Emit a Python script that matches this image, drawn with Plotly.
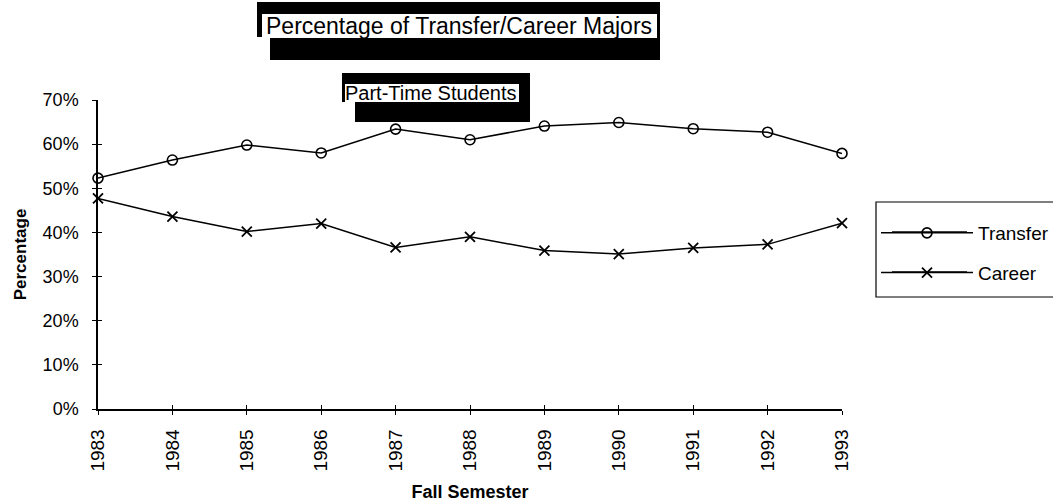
import plotly.graph_objects as go

years = [1983, 1984, 1985, 1986, 1987, 1988, 1989, 1990, 1991, 1992, 1993]
transfer = [0.523, 0.564, 0.598, 0.580, 0.634, 0.610, 0.641, 0.649, 0.635, 0.627, 0.579]
career = [0.477, 0.436, 0.402, 0.420, 0.366, 0.390, 0.359, 0.351, 0.365, 0.373, 0.421]
y_ticks = [0, 0.1, 0.2, 0.3, 0.4, 0.5, 0.6, 0.7]
title_text = "Percentage of Transfer/Career Majors"
subtitle_text = "Part-Time Students"

W, H = 1053, 504
L, R, T, B = 98, 842, 100, 409
FONT = "Liberation Sans, Arial, sans-serif"


def px(x):
    return (x - L) / (R - L)


def py(y):
    return (B - y) / (B - T)


fig = go.Figure()
fig.add_trace(go.Scatter(
    x=years, y=transfer, name="Transfer", mode="lines+markers",
    line=dict(color="black", width=1.5),
    marker=dict(symbol="circle-open", size=10, color="black", line=dict(width=1.6)),
    cliponaxis=False, legendgroup="a"))
fig.add_trace(go.Scatter(
    x=years, y=career, name="Career", mode="lines+markers",
    line=dict(color="black", width=1.5),
    marker=dict(symbol="x-thin-open", size=10, color="black", line=dict(width=1.8, color="black")),
    cliponaxis=False, legendgroup="b"))

shapes = []


def rect(x0, y0, x1, y1, color):
    shapes.append(dict(type="rect", xref="paper", yref="paper",
                       x0=px(x0), x1=px(x1), y0=py(y1), y1=py(y0),
                       fillcolor=color, line=dict(width=0), layer="below"))


# title label with shadow
rect(257, 2, 660, 37, "black")
rect(270, 37, 660, 60, "black")
rect(262, 14, 657, 38, "white")
# subtitle label with shadow
rect(342, 73, 530, 102, "black")
rect(355, 102, 530, 122, "black")
rect(345, 84, 519, 102, "white")
# legend frame
shapes.append(dict(type="rect", xref="paper", yref="paper",
                   x0=px(876), x1=px(1070), y0=py(297), y1=py(202),
                   line=dict(color="black", width=1.2), fillcolor="rgba(0,0,0,0)",
                   layer="below"))
# longer legend sample lines
for yy in (232, 272):
    shapes.append(dict(type="line", xref="paper", yref="paper",
                       x0=px(892), x1=px(967), y0=py(yy), y1=py(yy),
                       line=dict(color="black", width=1.5), layer="below"))

annotations = [
    dict(text=title_text, xref="paper", yref="paper", x=px(459), y=py(26),
         xanchor="center", yanchor="middle",
         showarrow=False, font=dict(family=FONT, size=23, color="black")),
    dict(text=subtitle_text, xref="paper", yref="paper", x=px(431), y=py(93),
         xanchor="center", yanchor="middle",
         showarrow=False, font=dict(family=FONT, size=20, color="black")),
]

fig.update_layout(
    width=W, height=H, autosize=False,
    margin=dict(l=L, r=W - R, t=T, b=H - B, autoexpand=False),
    plot_bgcolor="white", paper_bgcolor="white",
    font=dict(family=FONT, color="black"),
    shapes=shapes, annotations=annotations,
    showlegend=True,
    legend=dict(x=px(876), y=py(214), xanchor="left", yanchor="top",
                bgcolor="rgba(0,0,0,0)", borderwidth=0, itemwidth=92,
                font=dict(family=FONT, size=19, color="black"),
                traceorder="grouped", tracegroupgap=12),
    xaxis=dict(range=[1983, 1993], tickvals=years, ticktext=[str(y) for y in years],
               tickangle=-90, showgrid=False, zeroline=False,
               showline=True, linecolor="black", linewidth=1.5,
               ticks="outside", ticklen=4, tickwidth=1.2, tickcolor="black",
               tickfont=dict(family=FONT, size=19, color="black"),
               ticklabelstandoff=7,
               title=dict(text="<b>Fall Semester</b>", font=dict(family=FONT, size=18), standoff=15)),
    yaxis=dict(range=[0, 0.7], tickvals=y_ticks, tickformat=".0%",
               showgrid=False, zeroline=False,
               showline=True, linecolor="black", linewidth=1.5,
               ticks="outside", ticklen=4, tickwidth=1.2, tickcolor="black",
               tickfont=dict(family=FONT, size=18, color="black"),
               ticklabelstandoff=10,
               title=dict(text="<b>Percentage</b>", font=dict(family=FONT, size=17), standoff=12)),
    xaxis2=dict(range=[1983, 1993], tickvals=years, overlaying="x", side="bottom",
                showticklabels=False, showgrid=False, zeroline=False, showline=False,
                ticks="inside", ticklen=4, tickwidth=1.2, tickcolor="black", anchor="y"),
    yaxis2=dict(range=[0, 0.7], tickvals=y_ticks, overlaying="y", side="left",
                showticklabels=False, showgrid=False, zeroline=False, showline=False,
                ticks="inside", ticklen=4, tickwidth=1.2, tickcolor="black", anchor="x"),
)
# invisible helper trace to show the inner tick marks
fig.add_trace(go.Scatter(x=[years[0]], y=[y_ticks[0]], xaxis="x2", yaxis="y2",
                         mode="markers", marker=dict(opacity=0), showlegend=False,
                         hoverinfo="skip"))

fig.write_html("out.html", config={"displayModeBar": False},
               post_script="document.body.style.margin='0';")
